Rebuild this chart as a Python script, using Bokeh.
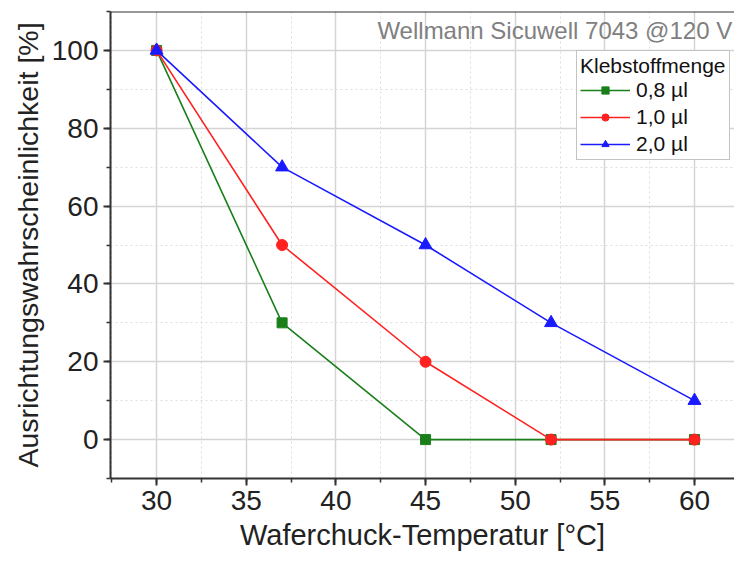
from bokeh.plotting import figure
from bokeh.models import Range1d, FixedTicker, Legend, LegendItem, Label, Span, Title
from bokeh.embed import file_html
from bokeh.resources import INLINE

temps_08 = [30, 37, 45, 52, 60]
vals_08 = [100, 30, 0, 0, 0]
temps_10 = [30, 37, 45, 52, 60]
vals_10 = [100, 50, 20, 0, 0]
temps_20 = [30, 37, 45, 52, 60]
vals_20 = [100, 70, 50, 30, 10]
series_labels = ["0,8 µl", "1,0 µl", "2,0 µl"]
x_ticks = [30, 35, 40, 45, 50, 55, 60]
y_ticks = [0, 20, 40, 60, 80, 100]

FONT = "Liberation Sans"

p = figure(width=734, height=564, output_backend="svg", toolbar_location=None,
           x_range=Range1d(27.43, 62.23), y_range=Range1d(-10, 110),
           min_border_left=110, min_border_right=0, min_border_top=11, min_border_bottom=86)
p.outline_line_color = None
p.background_fill_color = "white"
p.border_fill_color = "white"

for ax in (p.xaxis[0], p.yaxis[0]):
    ax.axis_line_color = "#333333"
    ax.axis_line_width = 2
    ax.major_tick_line_color = "#333333"
    ax.major_tick_line_width = 2
    ax.minor_tick_line_color = "#333333"
    ax.minor_tick_line_width = 1.5
    ax.major_tick_in = 0
    ax.major_tick_out = 7
    ax.minor_tick_in = 0
    ax.minor_tick_out = 4
    ax.major_label_text_font = FONT
    ax.major_label_text_font_size = "28px"
    ax.major_label_text_color = "#222222"
    ax.axis_label_text_font = FONT
    ax.axis_label_text_font_size = "29px"
    ax.axis_label_text_font_style = "normal"
    ax.axis_label_text_color = "#222222"

p.xaxis[0].ticker = FixedTicker(ticks=x_ticks, minor_ticks=[27.5 + 2.5 * i for i in range(15)])
p.yaxis[0].ticker = FixedTicker(ticks=y_ticks, minor_ticks=[-10 + 10 * i for i in range(13)])
p.xaxis[0].axis_label = "Waferchuck-Temperatur [°C]"
p.xaxis[0].major_label_standoff = 5
p.xaxis[0].axis_label_standoff = 6
p.yaxis[0].major_label_standoff = 5

# y axis title as a side title, shifted slightly downward like the reference
ytitle = Title(text="Ausrichtungswahrscheinlichkeit [%]", align="center", offset=-33,
               text_font=FONT, text_font_size="28.5px", text_font_style="normal",
               text_color="#222222", standoff=10)
p.add_layout(ytitle, "left")

for g in (p.xgrid[0], p.ygrid[0]):
    g.grid_line_color = "#d4d4d4"
    g.grid_line_width = 1.5
    g.minor_grid_line_color = "#dddddd"
    g.minor_grid_line_dash = "2 3"
    g.minor_grid_line_width = 1

p.add_layout(Span(location=110, dimension="width", line_color="#333333", line_width=2))

green = "#1a7f1a"
red = "#ff2020"
blue = "#1a1aff"

l1 = p.line(temps_08, vals_08, line_color=green, line_width=1.6)
m1 = p.scatter(temps_08, vals_08, marker="square", size=10, fill_color=green, line_color=green)
l2 = p.line(temps_10, vals_10, line_color=red, line_width=1.6)
m2 = p.scatter(temps_10, vals_10, marker="circle", size=11, fill_color=red, line_color=red)
l3 = p.line(temps_20, vals_20, line_color=blue, line_width=1.6)
m3 = p.scatter(temps_20, vals_20, marker="triangle", size=13, fill_color=blue, line_color=blue)

legend = Legend(items=[
    LegendItem(label=series_labels[0], renderers=[l1, m1]),
    LegendItem(label=series_labels[1], renderers=[l2, m2]),
    LegendItem(label=series_labels[2], renderers=[l3, m3]),
], location=(466, 318))
legend.title = "Klebstoffmenge"
legend.title_text_font = FONT
legend.title_text_font_size = "21px"
legend.title_text_font_style = "normal"
legend.title_text_color = "#111111"
legend.title_standoff = 0
legend.label_text_font = FONT
legend.label_text_font_size = "21px"
legend.label_text_color = "#111111"
legend.glyph_width = 50
legend.glyph_height = 18
legend.label_height = 18
legend.spacing = 3
legend.padding = 3
legend.margin = 0
legend.label_standoff = 6
legend.border_line_color = "#888888"
legend.border_line_width = 1
legend.background_fill_color = "white"
legend.background_fill_alpha = 1
p.add_layout(legend)

p.add_layout(Label(x=62.1, y=105.2, text="Wellmann Sicuwell 7043 @120 V", text_align="right",
                   text_baseline="middle", text_font=FONT, text_font_size="24px", text_color="#808080"))

open("out.html", "w").write(file_html(p, INLINE))
